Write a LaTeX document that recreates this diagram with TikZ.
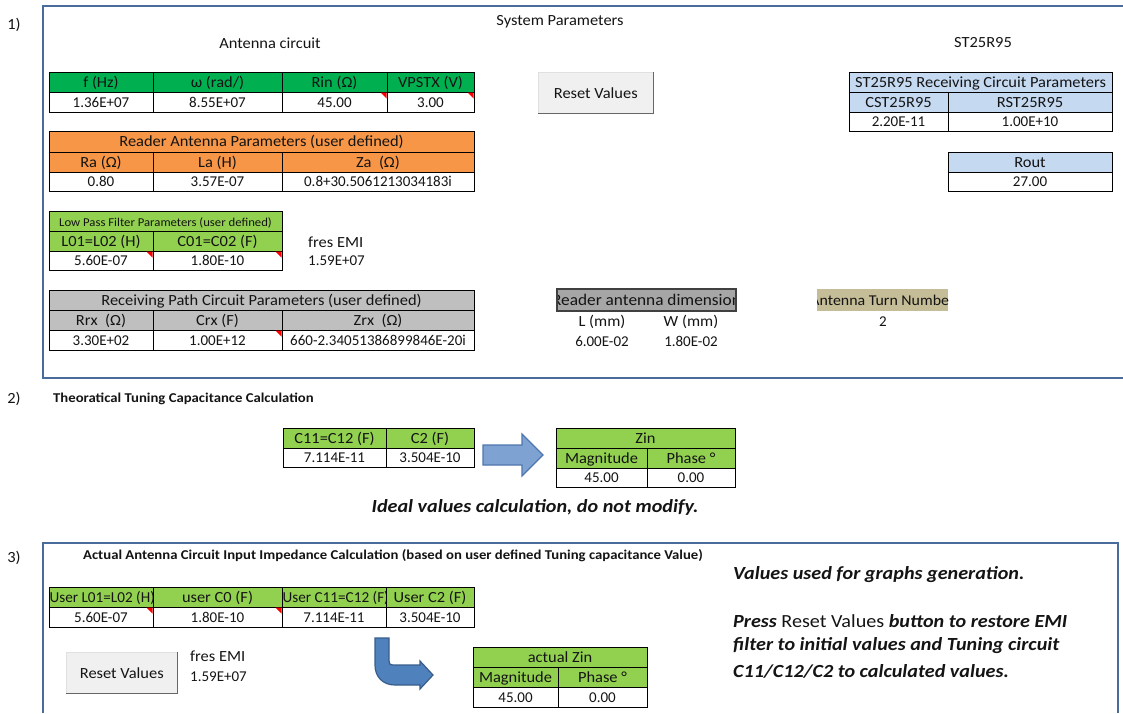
\documentclass[tikz,border=0pt]{standalone}
\usepackage{fontspec}
\setmainfont{Carlito}
\newfontfamily\txtfont[FakeStretch=1.06]{Carlito}
\newfontfamily\headfont[FakeStretch=1.09]{Carlito}
\usetikzlibrary{calc}

\definecolor{hdrgreen}{HTML}{00B050}
\definecolor{ltgreen}{HTML}{92D050}
\definecolor{hdrorange}{HTML}{F79646}
\definecolor{hdrgray}{HTML}{BFBFBF}
\definecolor{dimgray}{HTML}{A6A6A6}
\definecolor{turntan}{HTML}{C4BD97}
\definecolor{ltblue}{HTML}{C5D9F1}
\definecolor{framecol}{HTML}{4A6C9B}
\definecolor{btnface}{HTML}{F0F0F0}
\definecolor{arrowlight}{HTML}{7EA3D3}
\definecolor{arrowlightedge}{HTML}{4F76AE}
\definecolor{arrowdark}{HTML}{4F81BD}
\definecolor{arrowdarkedge}{HTML}{385D8A}
\definecolor{inkcol}{HTML}{141414}

\newcommand\fs[1]{\fontsize{#1}{#1}\selectfont}
\newcommand\txtsize{\txtfont\fs{15.5}}
\newcommand\numsize{\rmfamily\fs{15}}

\tikzset{
  cell/.style={draw=black, line width=0.8pt, inner sep=0pt, outer sep=0pt,
    anchor=north west, font=\txtsize, text=inkcol,
    text height=10pt, text depth=0pt},
  val/.style={fill=white, font=\numsize},
  clipped/.style 2 args={path picture={\node[anchor=center, font=\txtfont\fs{#2}, text=inkcol,
    inner sep=0pt, text height=10pt, text depth=0pt]
    at (path picture bounding box.center) {#1};}},
  clippedleft/.style={path picture={\node[anchor=west, font=\rmfamily\fs{15.2}, text=inkcol,
    inner sep=0pt, text height=10pt, text depth=0pt]
    at ([xshift=0.6pt]path picture bounding box.west) {#1};}},
  lbl/.style={inner sep=0pt, font=\txtsize, text=inkcol},
  numlbl/.style={inner sep=0pt, font=\numsize, text=inkcol},
  sectionframe/.style={draw=framecol, line width=2.2pt},
  button/.style={fill=btnface, draw=black!12, line width=0.6pt, anchor=north west,
    inner sep=0pt, font=\txtfont\fs{15.5}, text=inkcol},
  btnshadow/.style={draw=black!60, line width=1.6pt},
  note/.style={font=\headfont\fs{18.5}\bfseries\itshape, anchor=west, inner sep=0pt, text=inkcol},
  heading/.style={font=\headfont\fs{13.5}\bfseries, inner sep=0pt, text=inkcol},
  flag/.style={fill=red}
}

% \xcell{name}{x1}{y1}{x2}{y2}{options}{text}
\newcommand\xcell[7]{\node[cell,#6,minimum width={(#4-#2)*1pt},minimum height={(#5-#3)*1pt}] (#1) at (#2,#3) {#7};}
% red comment marker in the top right corner of a cell
\newcommand\flagat[1]{\fill[flag] ([shift={(-0.5,0.5)}]#1.north east) -- ++(-6,0) -- ++(6,6) -- cycle;}

\begin{document}
\begin{tikzpicture}[x=1pt,y=-1pt]
\useasboundingbox (0,0) rectangle (1123,713);

% ---------- section frames and numbers ----------
\draw[sectionframe] (1123,6) -- (43,6) -- (43,378) -- (1123,378);
\draw[sectionframe] (43,713) -- (43,543) -- (1118,543) -- (1118,713);
\node[lbl] (n1) at (14,25) {1)};
\node[lbl] (n2) at (14,399) {2)};
\node[lbl] (n3) at (14,558) {3)};

% ---------- section 1 ----------
\node[lbl] (sysp) at (560,22) {System Parameters};
\node[lbl] (antc) at (270,43) {Antenna circuit};
\node[lbl] (stname) at (983,43) {ST25R95};

% system table
\xcell{f}{49}{72}{153}{92}{fill=hdrgreen}{f (Hz)}
\xcell{w}{153}{72}{282}{92}{fill=hdrgreen}{ω (rad/)}
\xcell{rin}{282}{72}{387}{92}{fill=hdrgreen}{Rin (Ω)}
\xcell{vps}{387}{72}{474}{92}{fill=hdrgreen}{VPSTX (V)}
\xcell{fv}{49}{92}{153}{112}{val}{1.36E+07}
\xcell{wv}{153}{92}{282}{112}{val}{8.55E+07}
\xcell{rinv}{282}{92}{387}{112}{val}{45.00}
\xcell{vpsv}{387}{92}{474}{112}{val}{3.00}
\flagat{rinv}
\flagat{vpsv}

% reader antenna table
\xcell{ant}{49}{131}{474}{152}{fill=hdrorange}{Reader Antenna Parameters (user defined)}
\xcell{ra}{49}{152}{153}{172}{fill=hdrorange}{Ra (Ω)}
\xcell{la}{153}{152}{282}{172}{fill=hdrorange}{La (H)}
\xcell{za}{282}{152}{474}{172}{fill=hdrorange}{Za\ \ (Ω)}
\xcell{rav}{49}{172}{153}{191}{val}{0.80}
\xcell{lav}{153}{172}{282}{191}{val}{3.57E-07}
\xcell{zav}{282}{172}{474}{191}{val}{0.8+30.5061213034183i}

% low pass filter table
\xcell{lpf}{49}{211}{282}{231}{fill=ltgreen,font=\txtfont\fs{12}}{Low Pass Filter Parameters (user defined)}
\xcell{l01}{49}{231}{153}{251}{fill=ltgreen}{L01=L02 (H)}
\xcell{c01}{153}{231}{282}{251}{fill=ltgreen}{C01=C02 (F)}
\xcell{l01v}{49}{251}{153}{270}{val}{5.60E-07}
\xcell{c01v}{153}{251}{282}{270}{val}{1.80E-10}
\flagat{l01v}
\flagat{c01v}
\node[lbl, anchor=west] (fres1) at (308,242) {fres EMI};
\node[numlbl, anchor=west] (fres1v) at (308,261) {1.59E+07};

% receiving path table
\xcell{rxp}{49}{290}{474}{310}{fill=hdrgray}{Receiving Path Circuit Parameters (user defined)}
\xcell{rrx}{49}{310}{153}{330}{fill=hdrgray}{Rrx\ \ (Ω)}
\xcell{crx}{153}{310}{282}{330}{fill=hdrgray}{Crx (F)}
\xcell{zrx}{282}{310}{474}{330}{fill=hdrgray}{Zrx\ \ (Ω)}
\xcell{rrxv}{49}{330}{153}{350}{val}{3.30E+02}
\xcell{crxv}{153}{330}{282}{350}{val}{1.00E+12}
\xcell{zrxv}{282}{330}{474}{350}{val}{660-2.34051386899846E-20i}
\flagat{crxv}

% antenna dimensions and turns
\xcell{dim}{557}{289}{736}{311}{fill=dimgray,draw=black!75,line width=1.2pt,clipped={Reader antenna dimension}{16.3}}{}
\node[lbl] (dl) at (602,322) {L (mm)};
\node[lbl] (dw) at (691,322) {W (mm)};
\node[numlbl] (dlv) at (602,341) {6.00E-02};
\node[numlbl] (dwv) at (691,341) {1.80E-02};
\xcell{turns}{817}{289}{948}{311}{fill=turntan,draw=none,clipped={Antenna Turn Number}{15}}{}
\node[numlbl] (turnsv) at (883,322) {2};

% reset button
\node[button, minimum width=115pt, minimum height=41pt] (reset1) at (538,72) {Reset Values};
\draw[btnshadow] (reset1.north east) -- (reset1.south east) -- (reset1.south west);

% ST25R95 tables
\xcell{st}{849}{72}{1112}{92}{fill=ltblue}{ST25R95 Receiving Circuit Parameters}
\xcell{cst}{849}{92}{948}{112}{fill=ltblue}{CST25R95}
\xcell{rst}{948}{92}{1112}{112}{fill=ltblue}{RST25R95}
\xcell{cstv}{849}{112}{948}{131}{val}{2.20E-11}
\xcell{rstv}{948}{112}{1112}{131}{val}{1.00E+10}
\xcell{rout}{948}{152}{1112}{172}{fill=ltblue}{Rout}
\xcell{routv}{948}{172}{1112}{191}{val}{27.00}

% ---------- section 2 ----------
\node[heading, anchor=west] (t2) at (53,399) {Theoratical Tuning Capacitance Calculation};
\xcell{c11}{283}{428}{386}{448}{fill=ltgreen}{C11=C12 (F)}
\xcell{c2}{386}{428}{474}{448}{fill=ltgreen}{C2 (F)}
\xcell{c11v}{283}{448}{386}{467}{val}{7.114E-11}
\xcell{c2v}{386}{448}{474}{467}{val}{3.504E-10}

\xcell{zin}{556}{428}{735}{448}{fill=ltgreen}{Zin}
\xcell{mag}{556}{448}{647}{468}{fill=ltgreen}{Magnitude}
\xcell{ph}{647}{448}{735}{468}{fill=ltgreen}{Phase °}
\xcell{magv}{556}{468}{647}{487}{val}{45.00}
\xcell{phv}{647}{468}{735}{487}{val}{0.00}

% block arrow between the two tables
\coordinate (a2s) at (483,445);
\coordinate (a2t) at (543,455);
\path[fill=arrowlight, draw=arrowlightedge, line width=1.2pt, line join=miter]
  (a2s) -- (522,445) -- (522,434) -- (a2t) -- (522,476) -- (522,465) -- (483,465) -- cycle;

\node[font=\headfont\fs{18.5}\bfseries\itshape, text=inkcol, inner sep=0pt] (ideal) at (535,507)
  {Ideal values calculation, do not modify.};

% ---------- section 3 ----------
\node[heading] (t3) at (393,556)
  {Actual Antenna Circuit Input Impedance Calculation (based on user defined Tuning capacitance Value)};

\xcell{ul}{49}{587}{153}{607}{fill=ltgreen,clippedleft={User L01=L02 (H)}}{}
\xcell{uc0}{153}{587}{282}{607}{fill=ltgreen}{user C0 (F)}
\xcell{uc11}{282}{587}{386}{607}{fill=ltgreen,clippedleft={User C11=C12 (F)}}{}
\xcell{uc2}{386}{587}{474}{607}{fill=ltgreen}{User C2 (F)}
\xcell{ulv}{49}{607}{153}{627}{val}{5.60E-07}
\xcell{uc0v}{153}{607}{282}{627}{val}{1.80E-10}
\xcell{uc11v}{282}{607}{386}{627}{val}{7.114E-11}
\xcell{uc2v}{386}{607}{474}{627}{val}{3.504E-10}
\flagat{ulv}
\flagat{uc0v}

\node[button, minimum width=111pt, minimum height=41pt] (reset2) at (66,652) {Reset Values};
\draw[btnshadow] (reset2.north east) -- (reset2.south east) -- (reset2.south west);
\node[lbl, anchor=west] (fres2) at (190,656) {fres EMI};
\node[numlbl, anchor=west] (fres2v) at (190,677) {1.59E+07};

\xcell{azin}{473}{647}{647}{667}{fill=ltgreen}{actual Zin}
\xcell{amag}{473}{667}{558}{687}{fill=ltgreen}{Magnitude}
\xcell{aph}{558}{667}{647}{687}{fill=ltgreen}{Phase °}
\xcell{amagv}{473}{687}{558}{707}{val}{45.00}
\xcell{aphv}{558}{687}{647}{707}{val}{0.00}

% bent arrow down from the input table towards the result table
\path[fill=arrowdark, draw=arrowdarkedge, line width=1.2pt, line join=miter]
  (375,638) -- (389,638) -- (389,661) .. controls (389,664) and (390,665) .. (393,665)
  -- (420,665) -- (420,661) -- (433,675) -- (420,689) -- (420,685) -- (395,685)
  .. controls (383,685) and (375,677) .. (375,665) -- cycle;

% notes
\node[note] (note1) at (733,575) {Values used for graphs generation.};
\node[note] (note2) at (733,621) {Press \upshape\mdseries Reset Values\itshape\bfseries{} button to restore EMI};
\node[note] (note3) at (733,646) {filter to initial values and Tuning circuit};
\node[note] (note4) at (733,671) {C11/C12/C2 to calculated values.};
\end{tikzpicture}
\end{document}
